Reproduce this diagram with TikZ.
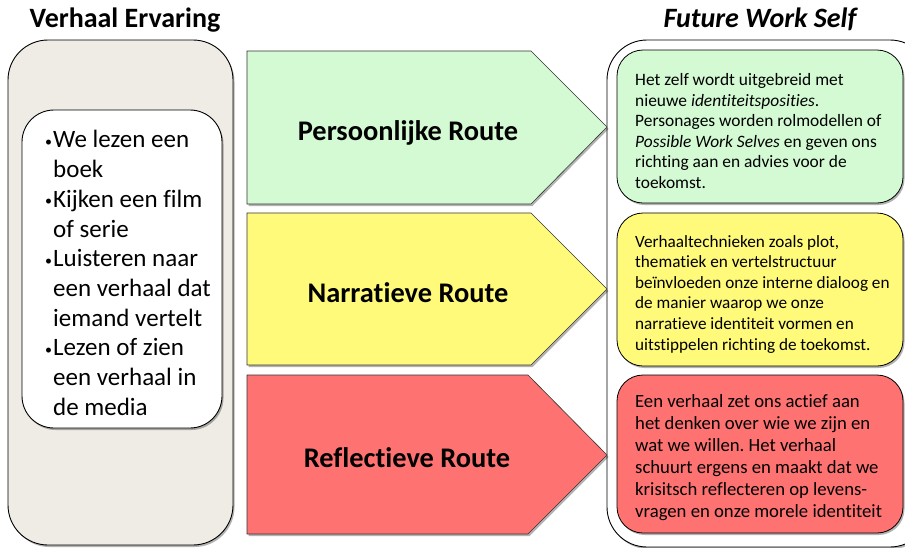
\documentclass[tikz,border=0pt]{standalone}
\usepackage{fontspec}
\setmainfont[Ligatures={NoCommon,NoContextual}]{Carlito}
\usetikzlibrary{shadows}
\definecolor{panelbeige}{HTML}{EFECE5}
\definecolor{routegreen}{HTML}{D4FAD4}
\definecolor{routeyellow}{HTML}{FFFA7A}
\definecolor{routered}{HTML}{FF7272}
\newcommand{\bul}{\makebox[8pt][l]{\raisebox{1.5pt}{\fontsize{14}{14}\selectfont•}}}
\newcommand{\ind}{\hspace*{8pt}}
\frenchspacing
\begin{document}
\begin{tikzpicture}[x=1pt,y=-1pt,
  softshadow/.style={drop shadow={shadow xshift=1.5pt,shadow yshift=-2pt,opacity=0.3,fill=black}},
  panel/.style={draw=black,line width=0.9pt,rounded corners=40pt,softshadow},
  card/.style={draw=black,line width=0.8pt,rounded corners=26pt,softshadow},
  route/.style={draw=black!80,line width=0.6pt,softshadow},
  title/.style={anchor=base,inner sep=0pt,font=\bfseries\fontsize{28}{32}\selectfont},
  routelabel/.style={anchor=base,inner sep=0pt,font=\bfseries\fontsize{28.4}{32}\selectfont},
  cardtext/.style={anchor=west,align=left,inner sep=0pt,font=\fontsize{17.4}{20.6}\selectfont}]
\useasboundingbox (0,0) rectangle (905,547);
\clip (0,0) rectangle (905,547);

% column titles
\node[title] (ttlL) at (125,27) {Verhaal Ervaring};
\node[title,font=\bfseries\itshape\fontsize{28}{32}\selectfont] (ttlR) at (760,27) {Future Work Self};

% left panel with the list of story experiences
\path[panel,fill=panelbeige] (8,40) rectangle (233,545);
\path[panel,fill=white,rounded corners=32pt] (22,110) rectangle (222,428);
\node[anchor=west,align=left,inner sep=0pt,font=\fontsize{25}{29.7}\selectfont] (list) at (45,273)
 {\bul We lezen een\\\ind boek\\\bul Kijken een film\\\ind of serie\\\bul Luisteren naar\\\ind een verhaal dat\\\ind iemand vertelt\\\bul Lezen of zien\\\ind een verhaal in\\\ind de media};

% right panel
\path[panel,fill=white] (607,40) rectangle (930,547);

% the three routes
\path[route,fill=routegreen] (247,51) -- (531,51) -- (607,127) -- (531,204) -- (247,204) -- cycle;
\path[route,fill=routeyellow] (247,213) -- (531,213) -- (607,289) -- (531,365) -- (247,365) -- cycle;
\path[route,fill=routered] (247,375) -- (528,375) -- (607,455) -- (528,534) -- (247,534) -- cycle;
\node[routelabel] (r1) at (408,140) {Persoonlijke Route};
\node[routelabel] (r2) at (408,302) {Narratieve Route};
\node[routelabel] (r3) at (407,467) {Reflectieve Route};

% outcome cards
\path[card,fill=routegreen] (617,50) rectangle (903,203);
\path[card,fill=routeyellow] (617,213) rectangle (903,366);
\path[card,fill=routered] (617,375) rectangle (903,533);
\node[cardtext] (c1) at (635,131)
 {Het zelf wordt uitgebreid met\\nieuwe \textit{identiteitsposities}.\\Personages worden rolmodellen of\\\textit{Possible Work Selves} en geven ons\\richting aan en advies voor de\\toekomst.};
\node[cardtext,font=\fontsize{17.2}{20.6}\selectfont] (c2) at (635,294)
 {Verhaaltechnieken zoals plot,\\thematiek en vertelstructuur\\beïnvloeden onze interne dialoog en\\de manier waarop we onze\\narratieve identiteit vormen en\\uitstippelen richting de toekomst.};
\node[cardtext,font=\fontsize{18.7}{22}\selectfont] (c3) at (635,458)
 {Een verhaal zet ons actief aan\\het denken over wie we zijn en\\wat we willen. Het verhaal\\schuurt ergens en maakt dat we\\krisitsch reflecteren op levens-\\vragen en onze morele identiteit};
\end{tikzpicture}
\end{document}
